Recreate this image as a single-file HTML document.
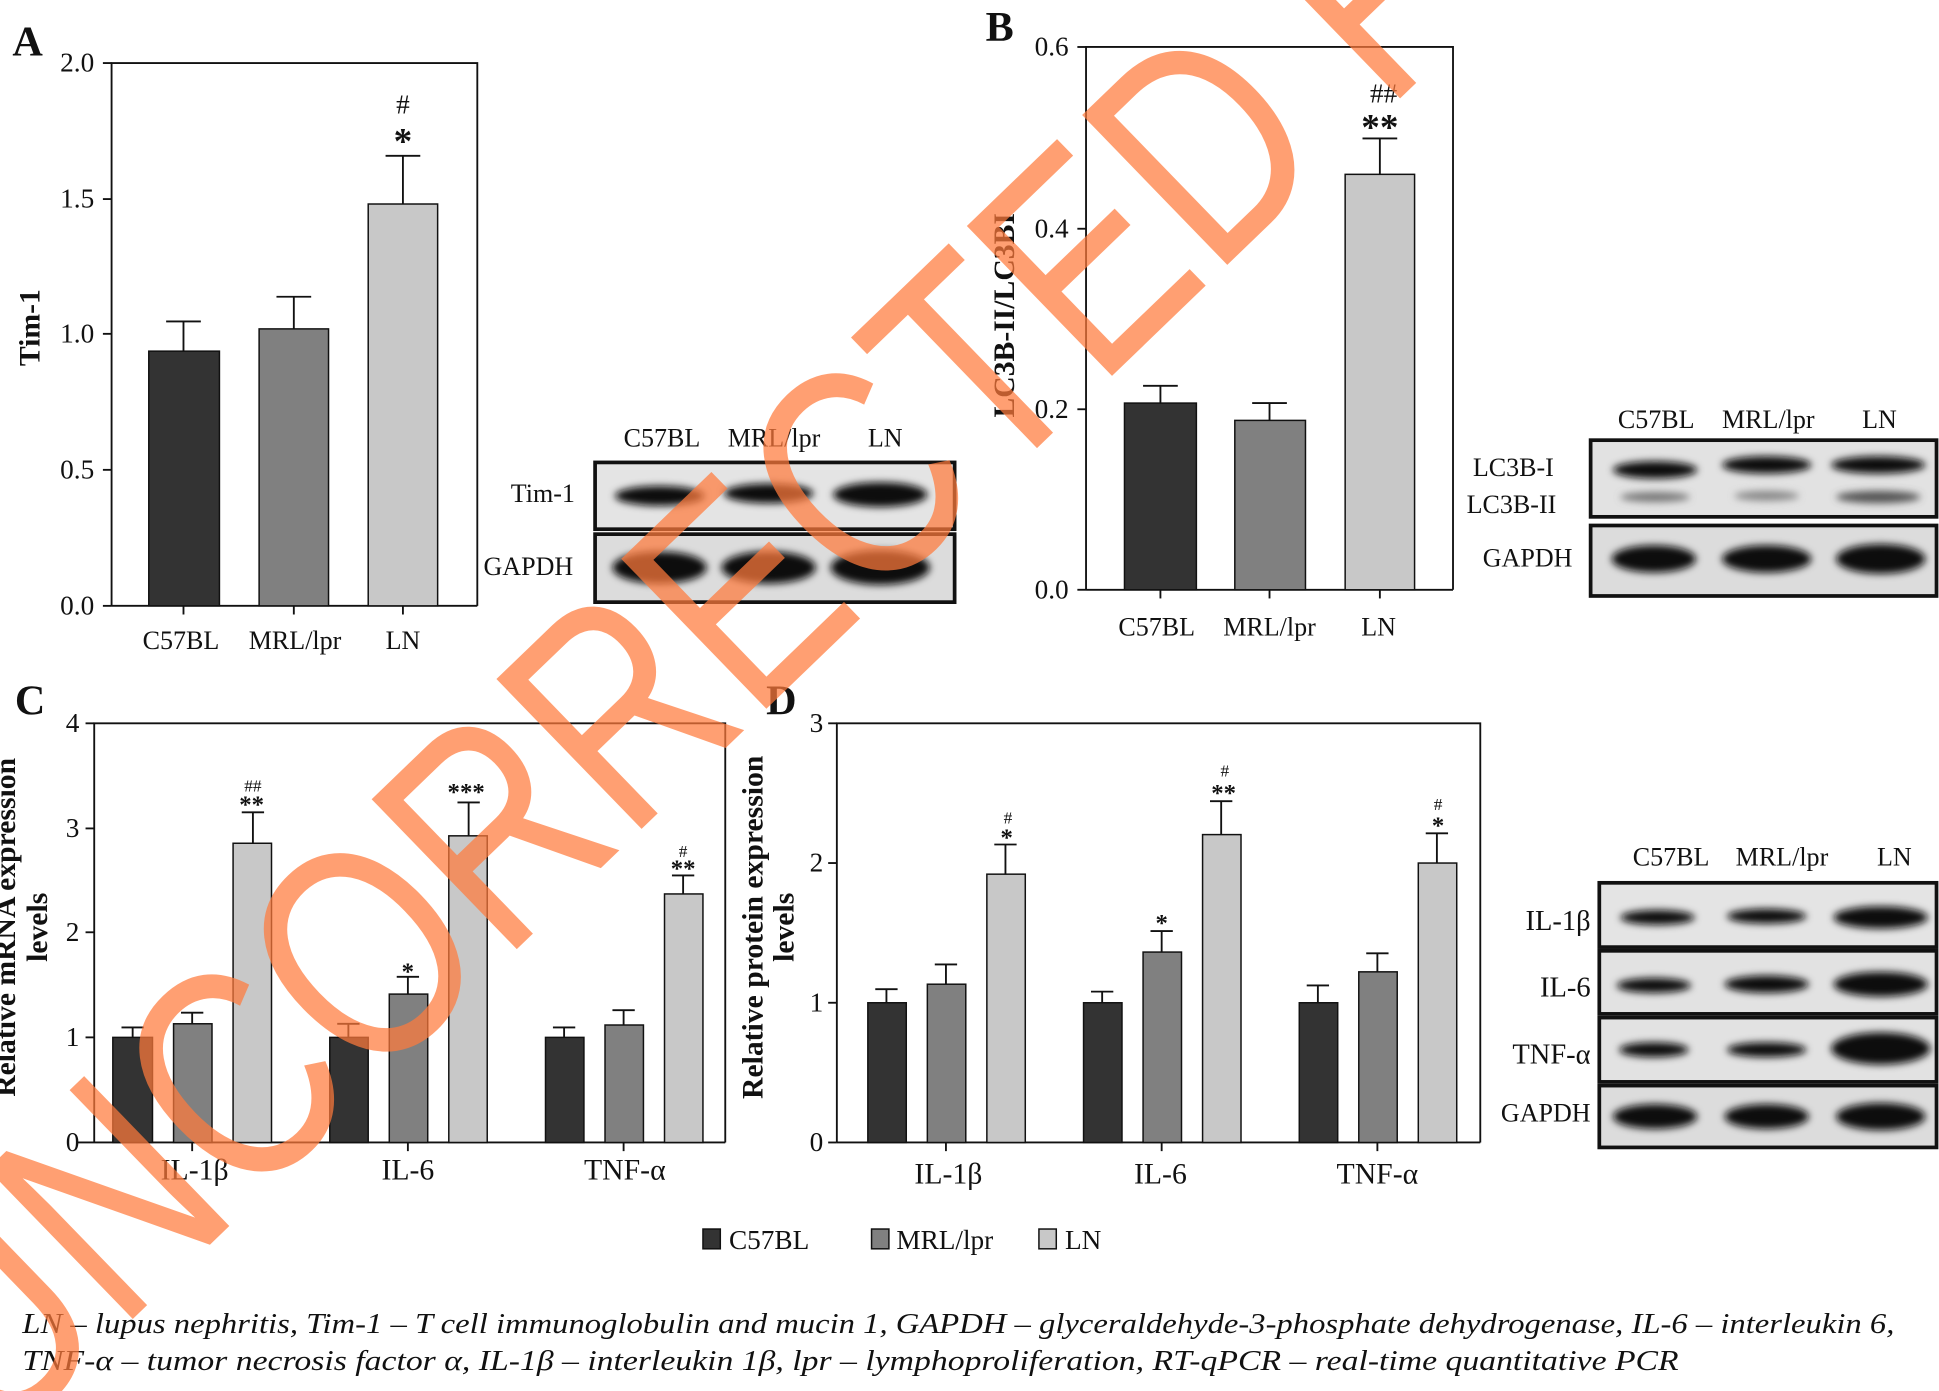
<!DOCTYPE html>
<html><head><meta charset="utf-8"><style>
html,body{margin:0;padding:0;background:#fff;width:1939px;height:1391px;overflow:hidden;}
svg{display:block;overflow:hidden;}
text{font-family:"Liberation Serif",serif;fill:#111;}
</style></head><body>
<svg width="1939" height="1391" viewBox="0 0 1564 1125" preserveAspectRatio="none" xmlns="http://www.w3.org/2000/svg">
<defs>
<filter id="bl" x="-20%" y="-50%" width="140%" height="200%"><feGaussianBlur stdDeviation="3"/></filter>
<clipPath id="cp"><rect x="0" y="0" width="1564" height="1125"/></clipPath>
</defs>
<g stroke="#111" stroke-width="1.5" fill="none">
<polyline points="90,490 90,51 385,51 385,490"/>
<line x1="90" y1="490" x2="385" y2="490"/>
<line x1="83" y1="490" x2="90" y2="490"/><line x1="83" y1="380" x2="90" y2="380"/><line x1="83" y1="270" x2="90" y2="270"/><line x1="83" y1="161" x2="90" y2="161"/><line x1="83" y1="51" x2="90" y2="51"/>
<line x1="148" y1="490" x2="148" y2="497"/><line x1="237" y1="490" x2="237" y2="497"/><line x1="325" y1="490" x2="325" y2="497"/>
<polyline points="876,477 876,38 1172,38 1172,477"/>
<line x1="876" y1="477" x2="1172" y2="477"/>
<line x1="869" y1="477" x2="876" y2="477"/><line x1="869" y1="331" x2="876" y2="331"/><line x1="869" y1="185" x2="876" y2="185"/><line x1="869" y1="38" x2="876" y2="38"/>
<line x1="936" y1="477" x2="936" y2="484"/><line x1="1024" y1="477" x2="1024" y2="484"/><line x1="1113" y1="477" x2="1113" y2="484"/>
<polyline points="76,924 76,585 585,585 585,924"/>
<line x1="62" y1="924" x2="585" y2="924"/>
<line x1="69" y1="839" x2="76" y2="839"/><line x1="69" y1="754" x2="76" y2="754"/><line x1="69" y1="670" x2="76" y2="670"/><line x1="69" y1="585" x2="76" y2="585"/>
<line x1="155" y1="924" x2="155" y2="931"/><line x1="329" y1="924" x2="329" y2="931"/><line x1="503" y1="924" x2="503" y2="931"/>
<polyline points="675,924 675,585 1194,585 1194,924"/>
<line x1="675" y1="924" x2="1194" y2="924"/>
<line x1="668" y1="924" x2="675" y2="924"/><line x1="668" y1="811" x2="675" y2="811"/><line x1="668" y1="698" x2="675" y2="698"/><line x1="668" y1="585" x2="675" y2="585"/>
<line x1="763" y1="924" x2="763" y2="931"/><line x1="937" y1="924" x2="937" y2="931"/><line x1="1111" y1="924" x2="1111" y2="931"/>
</g>
<g stroke="#111" stroke-width="1.2">
<rect x="120" y="284" width="57" height="206" fill="#333"/>
<rect x="209" y="266" width="56" height="224" fill="#808080"/>
<rect x="297" y="165" width="56" height="325" fill="#c8c8c8"/>
<rect x="907" y="326" width="58" height="151" fill="#333"/>
<rect x="996" y="340" width="57" height="137" fill="#808080"/>
<rect x="1085" y="141" width="56" height="336" fill="#c8c8c8"/>
<rect x="91" y="839" width="32" height="85" fill="#333"/>
<rect x="140" y="828" width="31" height="96" fill="#808080"/>
<rect x="188" y="682" width="31" height="242" fill="#c8c8c8"/>
<rect x="266" y="839" width="31" height="85" fill="#333"/>
<rect x="314" y="804" width="31" height="120" fill="#808080"/>
<rect x="362" y="676" width="31" height="248" fill="#c8c8c8"/>
<rect x="440" y="839" width="31" height="85" fill="#333"/>
<rect x="488" y="829" width="31" height="95" fill="#808080"/>
<rect x="536" y="723" width="31" height="201" fill="#c8c8c8"/>
<rect x="700" y="811" width="31" height="113" fill="#333"/>
<rect x="748" y="796" width="31" height="128" fill="#808080"/>
<rect x="796" y="707" width="31" height="217" fill="#c8c8c8"/>
<rect x="874" y="811" width="31" height="113" fill="#333"/>
<rect x="922" y="770" width="31" height="154" fill="#808080"/>
<rect x="970" y="675" width="31" height="249" fill="#c8c8c8"/>
<rect x="1048" y="811" width="31" height="113" fill="#333"/>
<rect x="1096" y="786" width="31" height="138" fill="#808080"/>
<rect x="1144" y="698" width="31" height="226" fill="#c8c8c8"/>
</g>
<g stroke="#111" stroke-width="1.5" fill="none">
<path d="M148,284V260M134,260H162 M237,266V240M223,240H251 M325,165V126M311,126H339"/>
<path d="M936,326V312M922,312H950 M1024,340V326M1010,326H1038 M1113,141V112M1099,112H1127"/>
<path d="M107,839V831M98,831H116 M155,828V819M146,819H164 M204,682V657M195,657H213"/>
<path d="M281,839V828M272,828H290 M329,804V790M320,790H338 M378,676V649M369,649H387"/>
<path d="M455,839V831M446,831H464 M503,829V817M494,817H512 M551,723V708M542,708H560"/>
<path d="M715,811V800M706,800H724 M763,796V780M754,780H772 M811,707V683M802,683H820"/>
<path d="M889,811V802M880,802H898 M937,770V753M928,753H946 M985,675V648M976,648H994"/>
<path d="M1063,811V797M1054,797H1072 M1111,786V771M1102,771H1120 M1159,698V674M1150,674H1168"/>
</g>
<g font-size="22" text-anchor="end">
<text x="76" y="497">0.0</text><text x="76" y="387">0.5</text><text x="76" y="277">1.0</text><text x="76" y="168">1.5</text><text x="76" y="58">2.0</text>
<text x="862" y="484">0.0</text><text x="862" y="338">0.2</text><text x="862" y="192">0.4</text><text x="862" y="45">0.6</text>
<text x="64" y="931">0</text><text x="64" y="846">1</text><text x="64" y="761">2</text><text x="64" y="677">3</text><text x="64" y="592">4</text>
<text x="664" y="931">0</text><text x="664" y="818">1</text><text x="664" y="705">2</text><text x="664" y="592">3</text>
</g>
<g font-size="21" text-anchor="middle">
<text x="146" y="525">C57BL</text><text x="238" y="525">MRL/lpr</text><text x="325" y="525">LN</text>
<text x="933" y="514">C57BL</text><text x="1024" y="514">MRL/lpr</text><text x="1112" y="514">LN</text>
<text x="157" y="954" font-size="24">IL-1β</text><text x="329" y="954" font-size="24">IL-6</text><text x="504" y="954" font-size="24">TNF-α</text>
<text x="765" y="957" font-size="24">IL-1β</text><text x="936" y="957" font-size="24">IL-6</text><text x="1111" y="957" font-size="24">TNF-α</text>
</g>
<g text-anchor="middle" font-weight="bold">
<text x="325" y="92" font-size="22" font-weight="normal">#</text><text x="325" y="124" font-size="30">*</text>
<text x="1116" y="83" font-size="22" font-weight="normal">##</text><text x="1113" y="113" font-size="30">**</text>
<text x="204" y="640" font-size="14" font-weight="normal">##</text><text x="203" y="657" font-size="20">**</text>
<text x="329" y="792" font-size="20">*</text>
<text x="376" y="647" font-size="20">***</text>
<text x="551" y="693" font-size="14" font-weight="normal">#</text><text x="551" y="709" font-size="20">**</text>
<text x="813" y="666" font-size="14" font-weight="normal">#</text><text x="812" y="684" font-size="20">*</text>
<text x="937" y="753" font-size="20">*</text>
<text x="988" y="628" font-size="14" font-weight="normal">#</text><text x="987" y="648" font-size="20">**</text>
<text x="1160" y="655" font-size="14" font-weight="normal">#</text><text x="1160" y="674" font-size="20">*</text>
</g>
<g font-weight="bold" font-size="34">
<text x="10" y="45">A</text><text x="795" y="33">B</text><text x="12" y="578">C</text><text x="618" y="578">D</text>
</g>
<g font-weight="bold" font-size="24" text-anchor="middle">
<text transform="translate(32,265) rotate(-90)">Tim-1</text>
<text transform="translate(818,255) rotate(-90)">LC3B-II/LC3BI</text>
<text transform="translate(12,750) rotate(-90)">Relative mRNA expression</text>
<text transform="translate(38,750) rotate(-90)">levels</text>
<text transform="translate(615,750) rotate(-90)">Relative protein expression</text>
<text transform="translate(640,750) rotate(-90)">levels</text>
</g>
<g font-size="21">
<text x="503" y="361">C57BL</text><text x="587" y="361">MRL/lpr</text><text x="700" y="361">LN</text>
<text x="412" y="406">Tim-1</text><text x="390" y="465">GAPDH</text>
</g>
<rect x="480" y="374" width="290" height="54" fill="#e4e4e4" stroke="#111" stroke-width="3"/>
<rect x="480" y="432" width="290" height="55" fill="#dcdcdc" stroke="#111" stroke-width="3"/>
<g fill="#111" filter="url(#bl)">
<ellipse cx="532" cy="401" rx="36" ry="8"/><ellipse cx="620" cy="399" rx="36" ry="8"/><ellipse cx="710" cy="400" rx="38" ry="10"/>
<ellipse cx="532" cy="459" rx="38" ry="13"/><ellipse cx="620" cy="459" rx="38" ry="13"/><ellipse cx="710" cy="459" rx="40" ry="14"/>
</g>
<g font-size="21">
<text x="1305" y="346">C57BL</text><text x="1389" y="346">MRL/lpr</text><text x="1502" y="346">LN</text>
<text x="1188" y="385">LC3B-I</text><text x="1183" y="415">LC3B-II</text><text x="1196" y="458">GAPDH</text>
</g>
<rect x="1283" y="356" width="279" height="62" fill="#e2e2e2" stroke="#111" stroke-width="3"/>
<rect x="1283" y="425" width="279" height="57" fill="#dcdcdc" stroke="#111" stroke-width="3"/>
<g fill="#111" filter="url(#bl)">
<ellipse cx="1335" cy="380" rx="34" ry="7"/><ellipse cx="1425" cy="376" rx="36" ry="7"/><ellipse cx="1515" cy="376" rx="38" ry="7"/>
<ellipse cx="1335" cy="402" rx="28" ry="4" fill="#777"/><ellipse cx="1425" cy="401" rx="26" ry="4" fill="#888"/><ellipse cx="1515" cy="402" rx="34" ry="5" fill="#555"/>
<ellipse cx="1334" cy="452" rx="34" ry="11"/><ellipse cx="1425" cy="452" rx="36" ry="11"/><ellipse cx="1517" cy="452" rx="36" ry="12"/>
</g>
<g font-size="21">
<text x="1317" y="700">C57BL</text><text x="1400" y="700">MRL/lpr</text><text x="1514" y="700">LN</text>
</g>
<g font-size="23" text-anchor="end">
<text x="1283" y="752">IL-1β</text><text x="1283" y="806">IL-6</text><text x="1283" y="860">TNF-α</text><text x="1283" y="907" font-size="21">GAPDH</text>
</g>
<rect x="1290" y="714" width="272" height="52" fill="#e4e4e4" stroke="#111" stroke-width="3"/>
<rect x="1290" y="769" width="272" height="51" fill="#e2e2e2" stroke="#111" stroke-width="3"/>
<rect x="1290" y="823" width="272" height="52" fill="#e2e2e2" stroke="#111" stroke-width="3"/>
<rect x="1290" y="878" width="272" height="50" fill="#dcdcdc" stroke="#111" stroke-width="3"/>
<g fill="#111" filter="url(#bl)">
<ellipse cx="1337" cy="742" rx="30" ry="6"/><ellipse cx="1425" cy="741" rx="32" ry="6"/><ellipse cx="1517" cy="742" rx="38" ry="9"/>
<ellipse cx="1334" cy="797" rx="30" ry="6"/><ellipse cx="1425" cy="796" rx="34" ry="7"/><ellipse cx="1517" cy="796" rx="38" ry="10"/>
<ellipse cx="1334" cy="849" rx="28" ry="6"/><ellipse cx="1425" cy="849" rx="32" ry="6"/><ellipse cx="1517" cy="848" rx="40" ry="13"/>
<ellipse cx="1335" cy="903" rx="34" ry="10"/><ellipse cx="1425" cy="903" rx="34" ry="10"/><ellipse cx="1517" cy="903" rx="36" ry="11"/>
</g>
<g stroke="#111" stroke-width="1.2">
<rect x="567" y="994" width="14" height="16" fill="#333"/>
<rect x="703" y="994" width="14" height="16" fill="#808080"/>
<rect x="838" y="994" width="14" height="16" fill="#c8c8c8"/>
</g>
<g font-size="22"><text x="588" y="1010">C57BL</text><text x="723" y="1010">MRL/lpr</text><text x="859" y="1010">LN</text></g>
<g font-size="23" font-style="italic">
<text x="18" y="1078" textLength="1510" lengthAdjust="spacingAndGlyphs">LN – lupus nephritis, Tim-1 – T cell immunoglobulin and mucin 1, GAPDH – glyceraldehyde-3-phosphate dehydrogenase, IL-6 – interleukin 6,</text>
<text x="18" y="1108" textLength="1336" lengthAdjust="spacingAndGlyphs">TNF-α – tumor necrosis factor α, IL-1β – interleukin 1β, lpr – lymphoproliferation, RT-qPCR – real-time quantitative PCR</text>
</g>
<g clip-path="url(#cp)">
<text transform="translate(-5,1175) rotate(-44)" font-size="245" textLength="2250" lengthAdjust="spacingAndGlyphs" style="fill:#ff7a3c;fill-opacity:0.72;font-family:'Liberation Sans',sans-serif">UNCORRECTED PROOF</text>
</g>
</svg>
</body></html>
